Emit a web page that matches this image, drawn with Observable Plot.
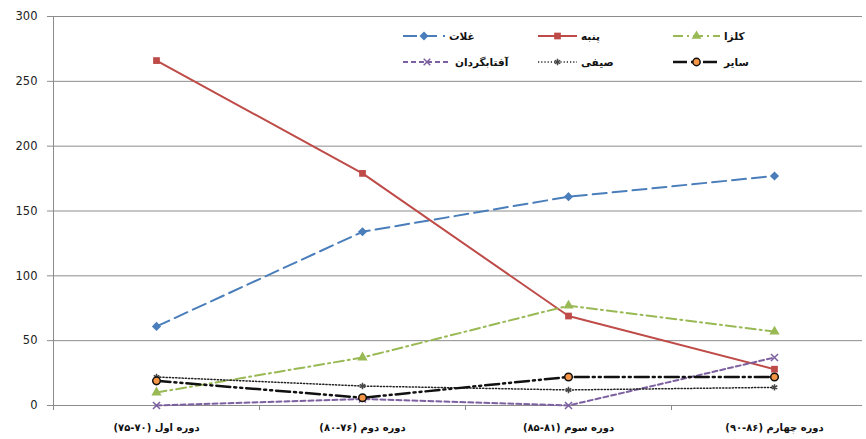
<!DOCTYPE html>
<html><head><meta charset="utf-8">
<script src="https://cdn.jsdelivr.net/npm/d3@7"></script>
<script src="https://cdn.jsdelivr.net/npm/@observablehq/plot@0.6"></script>
<style>
body{margin:0;background:#fff}
#wrap{position:relative;width:866px;height:439px;overflow:hidden}
.lg{position:absolute;display:flex;align-items:center;font:bold 10.5px "DejaVu Sans";color:#111;white-space:nowrap}
.lg svg{display:block}
.lg span{margin-left:4px;direction:rtl}
</style></head>
<body><div id="wrap"></div>
<script>
// ---- data ----
const periods = ["دوره اول (۷۰-۷۵)", "دوره دوم (۷۶-۸۰)", "دوره سوم (۸۱-۸۵)", "دوره چهارم (۸۶-۹۰)"];
const seriesNames = ["غلات", "پنبه", "کلزا", "آفتابگردان", "صیفی", "سایر"];
const cereals   = [61, 134, 161, 177];
const cotton    = [266, 179, 69, 28];
const canola    = [10, 37, 77, 57];
const sunflower = [0, 5, 0, 37];
const summer    = [22, 15, 12, 14];
const other     = [19, 6, 22, 22];
const yTicks = [0, 50, 100, 150, 200, 250, 300];

// ---- styles ----
const styles = {
  "غلات":       {stroke:"#4a7ebb", dash:"14,6", width:2, symbol:"diamond2", fill:"#4a7ebb", symStroke:"#4a7ebb", r:3.2},
  "پنبه":       {stroke:"#be4b48", dash:null, width:2, symbol:"square", fill:"#be4b48", symStroke:"none", r:3.8},
  "کلزا":       {stroke:"#98b954", dash:"10,4,2,4", width:2, symbol:"triangle", fill:"#98b954", symStroke:"none", r:3.8},
  "آفتابگردان": {stroke:"#7d60a0", dash:"5,3", width:2, symbol:"times", fill:"none", symStroke:"#7d60a0", r:3.3},
  "صیفی":       {stroke:"#222", dash:"1.2,2", width:1.5, symbol:"asterisk", fill:"none", symStroke:"#444", r:3},
  "سایر":       {stroke:"#111", dash:"14,4,2,4,2,4", width:2.5, symbol:"circle", fill:"#f79646", symStroke:"#111", r:3.8}
};

const values = [cereals, cotton, canola, sunflower, summer, other];
const rows = [];
seriesNames.forEach((s, k) => values[k].forEach((v, i) => rows.push({series: s, i: i + 0.5, value: v})));

const marks = [
  Plot.ruleY(yTicks.slice(1), {stroke: "#8c8c8c", strokeWidth: 1}),
  Plot.ruleY([0], {stroke: "#8c8c8c", strokeWidth: 1}),
  Plot.ruleX([0], {stroke: "#8c8c8c", strokeWidth: 1}),
  Plot.axisY({ticks: yTicks, tickSize: 6, tickPadding: 10, fontSize: 11.5, fontFamily: "DejaVu Sans", stroke: "#8c8c8c", color: "#222", label: null}),
  Plot.axisX({ticks: [0, 1, 2, 3, 4], tickSize: 5, tickFormat: () => "", stroke: "#8c8c8c", label: null}),
  Plot.axisX({ticks: [0.5, 1.5, 2.5, 3.5], tickSize: 0, tickPadding: 18, tickFormat: d => periods[d - 0.5], fontSize: 10, fontWeight: "bold", fontFamily: "DejaVu Sans", color: "#111", label: null})
];
seriesNames.forEach(s => {
  const st = styles[s];
  const d = rows.filter(r => r.series === s);
  marks.push(Plot.line(d, {x: "i", y: "value", stroke: st.stroke, strokeWidth: st.width, strokeDasharray: st.dash || undefined}));
});
seriesNames.forEach(s => {
  const st = styles[s];
  const d = rows.filter(r => r.series === s);
  marks.push(Plot.dot(d, {x: "i", y: "value", symbol: st.symbol, fill: st.fill, stroke: st.symStroke, strokeWidth: 1.5, r: st.r}));
});

const chart = Plot.plot({
  width: 866, height: 439,
  marginLeft: 53, marginRight: 4, marginTop: 16, marginBottom: 34,
  x: {type: "linear", domain: [0, 4], range: [53, 877], axis: null},
  y: {domain: [0, 300], axis: null},
  style: {background: "#fff", overflow: "visible"},
  marks
});
const wrap = document.getElementById("wrap");
wrap.appendChild(chart);

// ---- legend ----
const legendPos = [
  {x: 403, y: 36, w: 42}, {x: 538, y: 36, w: 39}, {x: 673, y: 36, w: 47},
  {x: 403, y: 62, w: 48}, {x: 538, y: 62, w: 39}, {x: 673, y: 62, w: 47}
];
const symPath = {
  diamond2: d3.symbol(d3.symbolDiamond2, 30)(),
  square: d3.symbol(d3.symbolSquare, 45)(),
  triangle: d3.symbol(d3.symbolTriangle, 40)(),
  times: d3.symbol(d3.symbolTimes, 30)(),
  asterisk: d3.symbol(d3.symbolAsterisk, 28)(),
  circle: d3.symbol(d3.symbolCircle, 42)()
};
seriesNames.forEach((s, k) => {
  const st = styles[s], p = legendPos[k];
  const div = document.createElement("div");
  div.className = "lg";
  div.style.left = p.x + "px";
  div.style.top = (p.y - 8) + "px";
  const ns = "http://www.w3.org/2000/svg";
  const svg = document.createElementNS(ns, "svg");
  svg.setAttribute("width", p.w); svg.setAttribute("height", 16);
  const ln = document.createElementNS(ns, "line");
  ln.setAttribute("x1", 0); ln.setAttribute("x2", p.w); ln.setAttribute("y1", 8); ln.setAttribute("y2", 8);
  ln.setAttribute("stroke", st.stroke); ln.setAttribute("stroke-width", st.width);
  if (st.dash) ln.setAttribute("stroke-dasharray", st.dash);
  svg.appendChild(ln);
  const sy = document.createElementNS(ns, "path");
  sy.setAttribute("d", symPath[st.symbol]);
  sy.setAttribute("transform", `translate(${p.w / 2},8)`);
  sy.setAttribute("fill", st.fill); sy.setAttribute("stroke", st.symStroke); sy.setAttribute("stroke-width", 1.5);
  svg.appendChild(sy);
  div.appendChild(svg);
  const sp = document.createElement("span");
  sp.textContent = s;
  div.appendChild(sp);
  wrap.appendChild(div);
});
</script>
</body></html>
